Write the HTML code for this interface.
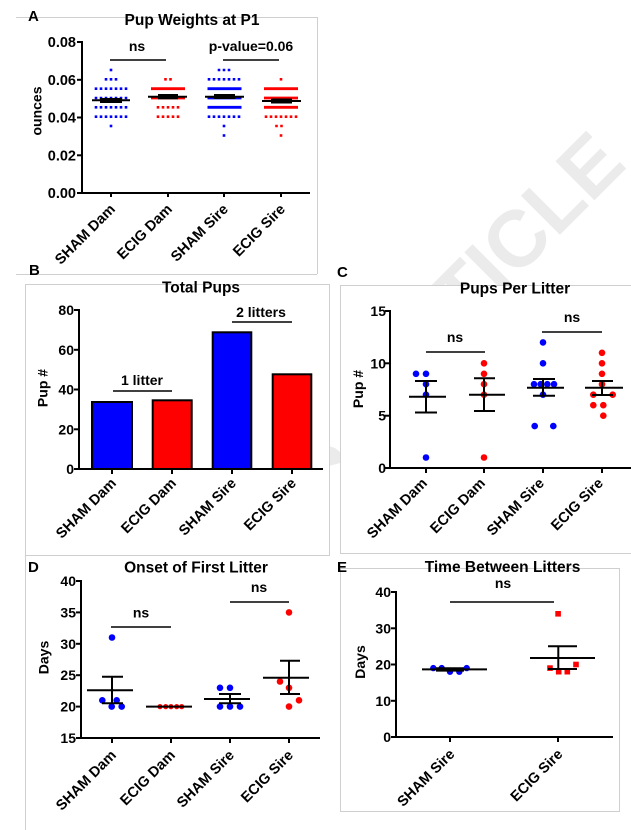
<!DOCTYPE html>
<html><head><meta charset="utf-8"><style>
html,body{margin:0;padding:0;background:#fff;}
svg{display:block;}
text{font-family:"Liberation Sans",Arial,sans-serif;font-weight:bold;}
</style></head><body>
<svg width="631" height="830" viewBox="0 0 631 830" xmlns="http://www.w3.org/2000/svg">
<rect width="631" height="830" fill="#fff"/>
<!-- watermark -->
<text x="486" y="269" font-size="80" style="fill:#ebebeb" text-anchor="middle" dy="0.35em" transform="rotate(-45 486 269)">ARTICLE</text>
<polygon points="329,446 335,448 340,452 340,463 329,466" fill="#ebebeb"/>

<!-- panel backgrounds -->
<rect x="16" y="17" width="301" height="257" fill="#fff"/>
<rect x="25" y="284" width="304" height="271" fill="#fff"/>
<rect x="340" y="285" width="291" height="268" fill="#fff"/>
<rect x="25" y="555" width="305" height="275" fill="#fff"/>
<rect x="340" y="568" width="280" height="244" fill="#fff"/>

<!-- panel borders -->
<g stroke="#cfcfcf" stroke-width="1" fill="none">
<line x1="16" y1="17.5" x2="317" y2="17.5"/>
<line x1="16" y1="274.5" x2="317" y2="274.5"/>
<line x1="317.5" y1="17" x2="317.5" y2="274"/>
<line x1="25" y1="284.5" x2="329" y2="284.5"/>
<line x1="25.5" y1="284" x2="25.5" y2="830"/>
<line x1="329.5" y1="284" x2="329.5" y2="555"/>
<line x1="25" y1="555.5" x2="330" y2="555.5"/>
<line x1="340" y1="285.5" x2="631" y2="285.5"/>
<line x1="340.5" y1="285" x2="340.5" y2="553"/>
<line x1="340" y1="553.5" x2="631" y2="553.5"/>
<rect x="340.5" y="568.5" width="279" height="243"/>
</g>

<!-- ================= PANEL A ================= -->
<text x="28" y="21" font-size="15">A</text>
<text x="192" y="25" font-size="15.5" text-anchor="middle">Pup Weights at P1</text>
<text x="41.5" y="111" font-size="14" text-anchor="middle" transform="rotate(-90 41.5 111)">ounces</text>
<g font-size="14.5" text-anchor="end">
<text x="76" y="198">0.00</text>
<text x="76" y="160.3">0.02</text>
<text x="76" y="122.5">0.04</text>
<text x="76" y="84.8">0.06</text>
<text x="76" y="47">0.08</text>
</g>
<g stroke="#000" stroke-width="2" fill="none">
<line x1="82" y1="41" x2="82" y2="194"/>
<line x1="81" y1="193" x2="310" y2="193"/>
<line x1="77" y1="193" x2="82" y2="193"/>
<line x1="77" y1="155.3" x2="82" y2="155.3"/>
<line x1="77" y1="117.5" x2="82" y2="117.5"/>
<line x1="77" y1="79.8" x2="82" y2="79.8"/>
<line x1="77" y1="42" x2="82" y2="42"/>
<line x1="111" y1="193" x2="111" y2="197"/>
<line x1="168" y1="193" x2="168" y2="197"/>
<line x1="224" y1="193" x2="224" y2="197"/>
<line x1="281" y1="193" x2="281" y2="197"/>
</g>
<!-- dots A -->
<g stroke="#0000ff" stroke-width="2.6" stroke-dasharray="2.6 2.4">
<line x1="109.7" y1="70" x2="112.3" y2="70"/>
<line x1="104.7" y1="79.3" x2="117.3" y2="79.3"/>
<line x1="94.7" y1="88.7" x2="127.3" y2="88.7"/>
<line x1="94.7" y1="98" x2="127.3" y2="98"/>
<line x1="94.7" y1="107.3" x2="127.3" y2="107.3"/>
<line x1="94.7" y1="116.7" x2="127.3" y2="116.7"/>
<line x1="109.7" y1="126" x2="112.3" y2="126"/>
<line x1="217.7" y1="70" x2="230.3" y2="70"/>
<line x1="207.7" y1="79.3" x2="240.3" y2="79.3"/>
<line x1="207.7" y1="116.7" x2="240.3" y2="116.7"/>
<line x1="222.7" y1="126" x2="225.3" y2="126"/>
<line x1="222.7" y1="135.5" x2="225.3" y2="135.5"/>
</g>
<g stroke="#0000ff" stroke-width="2.8">
<line x1="207.5" y1="88.7" x2="241.5" y2="88.7"/>
<line x1="207.5" y1="98" x2="241.5" y2="98"/>
<line x1="207.5" y1="107.3" x2="241.5" y2="107.3"/>
</g>
<g stroke="#ff0000" stroke-width="2.6" stroke-dasharray="2.6 2.4">
<line x1="164.2" y1="79.3" x2="171.8" y2="79.3"/>
<line x1="156.7" y1="107.3" x2="179.3" y2="107.3"/>
<line x1="156.7" y1="116.7" x2="179.3" y2="116.7"/>
<line x1="279.7" y1="79.3" x2="282.3" y2="79.3"/>
<line x1="264.7" y1="116.7" x2="297.3" y2="116.7"/>
<line x1="275.2" y1="126" x2="282.8" y2="126"/>
<line x1="279.7" y1="135.5" x2="282.3" y2="135.5"/>
</g>
<g stroke="#ff0000" stroke-width="2.8">
<line x1="151" y1="88.7" x2="185" y2="88.7"/>
<line x1="151" y1="98" x2="185" y2="98"/>
<line x1="264" y1="88.7" x2="298" y2="88.7"/>
<line x1="264" y1="98" x2="298" y2="98"/>
<line x1="264" y1="107.3" x2="298" y2="107.3"/>
</g>
<g stroke="#000" stroke-width="2">
<line x1="92" y1="100.3" x2="130" y2="100.3"/>
<line x1="148" y1="96.7" x2="187" y2="96.7"/>
<line x1="205" y1="96.7" x2="244" y2="96.7"/>
<line x1="262" y1="101" x2="301" y2="101"/>
</g>
<g fill="#000">
<rect x="100" y="98" width="22" height="5"/>
<rect x="158" y="94" width="20" height="5.3"/>
<rect x="214" y="94" width="21" height="5"/>
<rect x="271" y="98.5" width="21" height="5"/>
</g>
<text x="137" y="51" font-size="14" text-anchor="middle">ns</text>
<text x="251" y="51" font-size="14" text-anchor="middle">p-value=0.06</text>
<g stroke="#000" stroke-width="1.5">
<line x1="110" y1="60" x2="166" y2="60"/>
<line x1="223" y1="60" x2="279" y2="60"/>
</g>
<g font-size="14.5" text-anchor="end">
<text x="116" y="210" transform="rotate(-45 116 210)">SHAM Dam</text>
<text x="173" y="210" transform="rotate(-45 173 210)">ECIG Dam</text>
<text x="229" y="210" transform="rotate(-45 229 210)">SHAM Sire</text>
<text x="286" y="210" transform="rotate(-45 286 210)">ECIG Sire</text>
</g>

<!-- ================= PANEL B ================= -->
<text x="29" y="275" font-size="15">B</text>
<text x="201" y="292.5" font-size="15.5" text-anchor="middle">Total Pups</text>
<text x="47.5" y="388" font-size="14" text-anchor="middle" transform="rotate(-90 47.5 388)">Pup #</text>
<g font-size="14" text-anchor="end">
<text x="74" y="474">0</text>
<text x="74" y="434.3">20</text>
<text x="74" y="394.5">40</text>
<text x="74" y="354.8">60</text>
<text x="74" y="315">80</text>
</g>
<g stroke="#000" stroke-width="2">
<rect x="92" y="402" width="40" height="67" fill="#0000ff"/>
<rect x="152.7" y="400.3" width="39" height="68.7" fill="#ff0000"/>
<rect x="212.7" y="332.3" width="38.6" height="136.7" fill="#0000ff"/>
<rect x="272.7" y="374.3" width="38.6" height="94.7" fill="#ff0000"/>
<line x1="79" y1="309" x2="79" y2="470"/>
<line x1="78" y1="469" x2="323" y2="469"/>
<line x1="74" y1="469" x2="79" y2="469"/>
<line x1="74" y1="429.3" x2="79" y2="429.3"/>
<line x1="74" y1="389.5" x2="79" y2="389.5"/>
<line x1="74" y1="349.8" x2="79" y2="349.8"/>
<line x1="74" y1="310" x2="79" y2="310"/>
<line x1="112" y1="469" x2="112" y2="474"/>
<line x1="172" y1="469" x2="172" y2="474"/>
<line x1="232" y1="469" x2="232" y2="474"/>
<line x1="292" y1="469" x2="292" y2="474"/>
</g>
<text x="142" y="385" font-size="14" text-anchor="middle">1 litter</text>
<text x="261" y="317" font-size="14" text-anchor="middle">2 litters</text>
<g stroke="#000" stroke-width="1.5">
<line x1="113" y1="391" x2="172" y2="391"/>
<line x1="232" y1="322" x2="292" y2="322"/>
</g>
<g font-size="14.5" text-anchor="end">
<text x="117" y="484" transform="rotate(-45 117 484)">SHAM Dam</text>
<text x="177" y="484" transform="rotate(-45 177 484)">ECIG Dam</text>
<text x="237" y="484" transform="rotate(-45 237 484)">SHAM Sire</text>
<text x="297" y="484" transform="rotate(-45 297 484)">ECIG Sire</text>
</g>

<!-- ================= PANEL C ================= -->
<text x="337" y="277" font-size="15">C</text>
<text x="515" y="293.3" font-size="15.5" text-anchor="middle">Pups Per Litter</text>
<text x="363" y="389" font-size="14" text-anchor="middle" transform="rotate(-90 363 389)">Pup #</text>
<g font-size="14" text-anchor="end">
<text x="386" y="473">0</text>
<text x="386" y="420.7">5</text>
<text x="386" y="368.3">10</text>
<text x="386" y="316">15</text>
</g>
<g stroke="#000" stroke-width="2">
<line x1="390" y1="310" x2="390" y2="469"/>
<line x1="389" y1="468" x2="631" y2="468"/>
<line x1="385" y1="468" x2="390" y2="468"/>
<line x1="385" y1="415.7" x2="390" y2="415.7"/>
<line x1="385" y1="363.3" x2="390" y2="363.3"/>
<line x1="385" y1="311" x2="390" y2="311"/>
<line x1="426" y1="468" x2="426" y2="473"/>
<line x1="484" y1="468" x2="484" y2="473"/>
<line x1="543" y1="468" x2="543" y2="473"/>
<line x1="602" y1="468" x2="602" y2="473"/>
</g>
<g fill="#0000ff">
<circle cx="416" cy="373.8" r="3.3"/><circle cx="426" cy="373.8" r="3.3"/>
<circle cx="426" cy="384.2" r="3.3"/><circle cx="426" cy="394.7" r="3.3"/>
<circle cx="426" cy="457.5" r="3.3"/>
<circle cx="543" cy="342.4" r="3.3"/><circle cx="543" cy="363.3" r="3.3"/>
<circle cx="534" cy="384.2" r="3.3"/><circle cx="540.7" cy="384.2" r="3.3"/>
<circle cx="547.3" cy="384.2" r="3.3"/><circle cx="554" cy="384.2" r="3.3"/>
<circle cx="543" cy="394.7" r="3.3"/>
<circle cx="534.7" cy="426.1" r="3.3"/><circle cx="553.3" cy="426.1" r="3.3"/>
</g>
<g fill="#ff0000">
<circle cx="484" cy="363.3" r="3.3"/><circle cx="484" cy="373.8" r="3.3"/>
<circle cx="484" cy="384.2" r="3.3"/><circle cx="484" cy="394.7" r="3.3"/>
<circle cx="484" cy="457.5" r="3.3"/>
<circle cx="602" cy="352.8" r="3.3"/><circle cx="602" cy="363.3" r="3.3"/>
<circle cx="602" cy="373.8" r="3.3"/><circle cx="602" cy="384.2" r="3.3"/>
<circle cx="593.3" cy="394.7" r="3.3"/><circle cx="612.7" cy="394.7" r="3.3"/>
<circle cx="593.3" cy="405.2" r="3.3"/><circle cx="603.3" cy="405.2" r="3.3"/>
<circle cx="603.3" cy="415.7" r="3.3"/>
</g>
<g stroke="#000" stroke-width="2">
<line x1="409" y1="396.8" x2="446" y2="396.8"/>
<line x1="426" y1="381" x2="426" y2="412.5"/>
<line x1="415" y1="381" x2="437" y2="381"/>
<line x1="415" y1="412.5" x2="437" y2="412.5"/>
<line x1="469" y1="394.7" x2="505" y2="394.7"/>
<line x1="484" y1="378.3" x2="484" y2="411"/>
<line x1="474" y1="378.3" x2="495" y2="378.3"/>
<line x1="474" y1="411" x2="495" y2="411"/>
<line x1="527" y1="387.7" x2="564" y2="387.7"/>
<line x1="543" y1="379" x2="543" y2="395.7"/>
<line x1="533" y1="379" x2="555" y2="379"/>
<line x1="533" y1="395.7" x2="555" y2="395.7"/>
<line x1="585" y1="387.7" x2="623" y2="387.7"/>
<line x1="602" y1="381" x2="602" y2="395"/>
<line x1="592" y1="381" x2="613" y2="381"/>
<line x1="592" y1="395" x2="613" y2="395"/>
</g>
<text x="455" y="342" font-size="14" text-anchor="middle">ns</text>
<text x="572" y="322" font-size="14" text-anchor="middle">ns</text>
<g stroke="#000" stroke-width="1.5">
<line x1="426" y1="352" x2="485" y2="352"/>
<line x1="542" y1="332" x2="602" y2="332"/>
</g>
<g font-size="14.5" text-anchor="end">
<text x="428" y="484" transform="rotate(-45 428 484)">SHAM Dam</text>
<text x="486" y="484" transform="rotate(-45 486 484)">ECIG Dam</text>
<text x="545" y="484" transform="rotate(-45 545 484)">SHAM Sire</text>
<text x="604" y="484" transform="rotate(-45 604 484)">ECIG Sire</text>
</g>

<!-- ================= PANEL D ================= -->
<text x="28" y="572" font-size="15">D</text>
<text x="196" y="572.3" font-size="15.5" text-anchor="middle">Onset of First Litter</text>
<text x="48.5" y="657.5" font-size="14" text-anchor="middle" transform="rotate(-90 48.5 657.5)">Days</text>
<g font-size="14" text-anchor="end">
<text x="76" y="743">15</text>
<text x="76" y="711.6">20</text>
<text x="76" y="680.2">25</text>
<text x="76" y="648.8">30</text>
<text x="76" y="617.4">35</text>
<text x="76" y="586">40</text>
</g>
<g stroke="#000" stroke-width="2">
<line x1="81" y1="580" x2="81" y2="739"/>
<line x1="80" y1="738" x2="320" y2="738"/>
<line x1="76" y1="738" x2="81" y2="738"/>
<line x1="76" y1="706.6" x2="81" y2="706.6"/>
<line x1="76" y1="675.2" x2="81" y2="675.2"/>
<line x1="76" y1="643.8" x2="81" y2="643.8"/>
<line x1="76" y1="612.4" x2="81" y2="612.4"/>
<line x1="76" y1="581" x2="81" y2="581"/>
<line x1="112" y1="738" x2="112" y2="743"/>
<line x1="171" y1="738" x2="171" y2="743"/>
<line x1="230" y1="738" x2="230" y2="743"/>
<line x1="289" y1="738" x2="289" y2="743"/>
</g>
<g fill="#0000ff">
<circle cx="112" cy="637.5" r="3.3"/>
<circle cx="102.3" cy="700.3" r="3.3"/><circle cx="116.7" cy="700.3" r="3.3"/>
<circle cx="111.7" cy="706.6" r="3.3"/><circle cx="121.7" cy="706.6" r="3.3"/>
<circle cx="220" cy="687.8" r="3.3"/><circle cx="230" cy="687.8" r="3.3"/>
<circle cx="220" cy="706.6" r="3.3"/><circle cx="230" cy="706.6" r="3.3"/><circle cx="240" cy="706.6" r="3.3"/>
</g>
<g fill="#ff0000">
<circle cx="160" cy="706.6" r="2.6"/><circle cx="165.7" cy="706.6" r="2.6"/>
<circle cx="171" cy="706.6" r="2.6"/><circle cx="176.7" cy="706.6" r="2.6"/>
<circle cx="181.7" cy="706.6" r="2.6"/>
<circle cx="289" cy="612.4" r="3.3"/>
<circle cx="280" cy="681.5" r="3.3"/>
<circle cx="289" cy="687.8" r="3.3"/>
<circle cx="299" cy="700.3" r="3.3"/>
<circle cx="289" cy="706.6" r="3.3"/>
</g>
<g stroke="#000" stroke-width="2">
<line x1="87" y1="690.3" x2="133" y2="690.3"/>
<line x1="112" y1="676.7" x2="112" y2="703.3"/>
<line x1="102" y1="676.7" x2="123" y2="676.7"/>
<line x1="102" y1="703.3" x2="123" y2="703.3"/>
<line x1="146" y1="706.6" x2="192" y2="706.6"/>
<line x1="204" y1="699" x2="250" y2="699"/>
<line x1="230" y1="694" x2="230" y2="703.3"/>
<line x1="219" y1="694" x2="241" y2="694"/>
<line x1="219" y1="703.3" x2="241" y2="703.3"/>
<line x1="263" y1="677.7" x2="309" y2="677.7"/>
<line x1="289" y1="660.7" x2="289" y2="694"/>
<line x1="280" y1="660.7" x2="300" y2="660.7"/>
<line x1="280" y1="694" x2="300" y2="694"/>
</g>
<text x="141" y="617.5" font-size="14" text-anchor="middle">ns</text>
<text x="259" y="592" font-size="14" text-anchor="middle">ns</text>
<g stroke="#000" stroke-width="1.5">
<line x1="111" y1="627" x2="171" y2="627"/>
<line x1="230" y1="602" x2="289" y2="602"/>
</g>
<g font-size="14.5" text-anchor="end">
<text x="117" y="756" transform="rotate(-45 117 756)">SHAM Dam</text>
<text x="176" y="756" transform="rotate(-45 176 756)">ECIG Dam</text>
<text x="235" y="756" transform="rotate(-45 235 756)">SHAM Sire</text>
<text x="294" y="756" transform="rotate(-45 294 756)">ECIG Sire</text>
</g>

<!-- ================= PANEL E ================= -->
<text x="337" y="572" font-size="15">E</text>
<text x="502.5" y="572" font-size="15.5" text-anchor="middle">Time Between Litters</text>
<text x="365" y="662" font-size="14" text-anchor="middle" transform="rotate(-90 365 662)">Days</text>
<g font-size="14" text-anchor="end">
<text x="391" y="742">0</text>
<text x="391" y="705.8">10</text>
<text x="391" y="669.5">20</text>
<text x="391" y="633.3">30</text>
<text x="391" y="597">40</text>
</g>
<g stroke="#000" stroke-width="2">
<line x1="396" y1="591" x2="396" y2="738"/>
<line x1="395" y1="737" x2="613" y2="737"/>
<line x1="391" y1="737" x2="396" y2="737"/>
<line x1="391" y1="700.8" x2="396" y2="700.8"/>
<line x1="391" y1="664.5" x2="396" y2="664.5"/>
<line x1="391" y1="628.3" x2="396" y2="628.3"/>
<line x1="391" y1="592" x2="396" y2="592"/>
<line x1="450" y1="737" x2="450" y2="742"/>
<line x1="558" y1="737" x2="558" y2="742"/>
</g>
<g fill="#0000ff">
<circle cx="433.3" cy="668.1" r="3.2"/><circle cx="441.7" cy="668.1" r="3.2"/>
<circle cx="466.7" cy="668.1" r="3.2"/>
<circle cx="450" cy="671.7" r="3.2"/><circle cx="459.3" cy="671.7" r="3.2"/>
</g>
<g fill="#ff0000">
<rect x="555.3" y="611" width="5.6" height="5.6"/>
<rect x="547.2" y="665.3" width="5.6" height="5.6"/>
<rect x="555.9" y="668.9" width="5.6" height="5.6"/>
<rect x="564.5" y="668.9" width="5.6" height="5.6"/>
<rect x="573.2" y="661.7" width="5.6" height="5.6"/>
</g>
<g stroke="#000" stroke-width="2">
<line x1="422" y1="669.4" x2="487" y2="669.4"/>
<line x1="436" y1="668.2" x2="464" y2="668.2"/>
<line x1="436" y1="670.6" x2="464" y2="670.6"/>
<line x1="530" y1="658" x2="595" y2="658"/>
<line x1="558.3" y1="646.3" x2="558.3" y2="669"/>
<line x1="548" y1="646.3" x2="577" y2="646.3"/>
<line x1="548" y1="669" x2="577" y2="669"/>
</g>
<text x="503" y="588" font-size="14" text-anchor="middle">ns</text>
<line x1="450" y1="602" x2="554" y2="602" stroke="#000" stroke-width="1.5"/>
<g font-size="14.5" text-anchor="end">
<text x="455.5" y="755" transform="rotate(-45 455.5 755)">SHAM Sire</text>
<text x="563.5" y="755" transform="rotate(-45 563.5 755)">ECIG Sire</text>
</g>
</svg>
</body></html>
